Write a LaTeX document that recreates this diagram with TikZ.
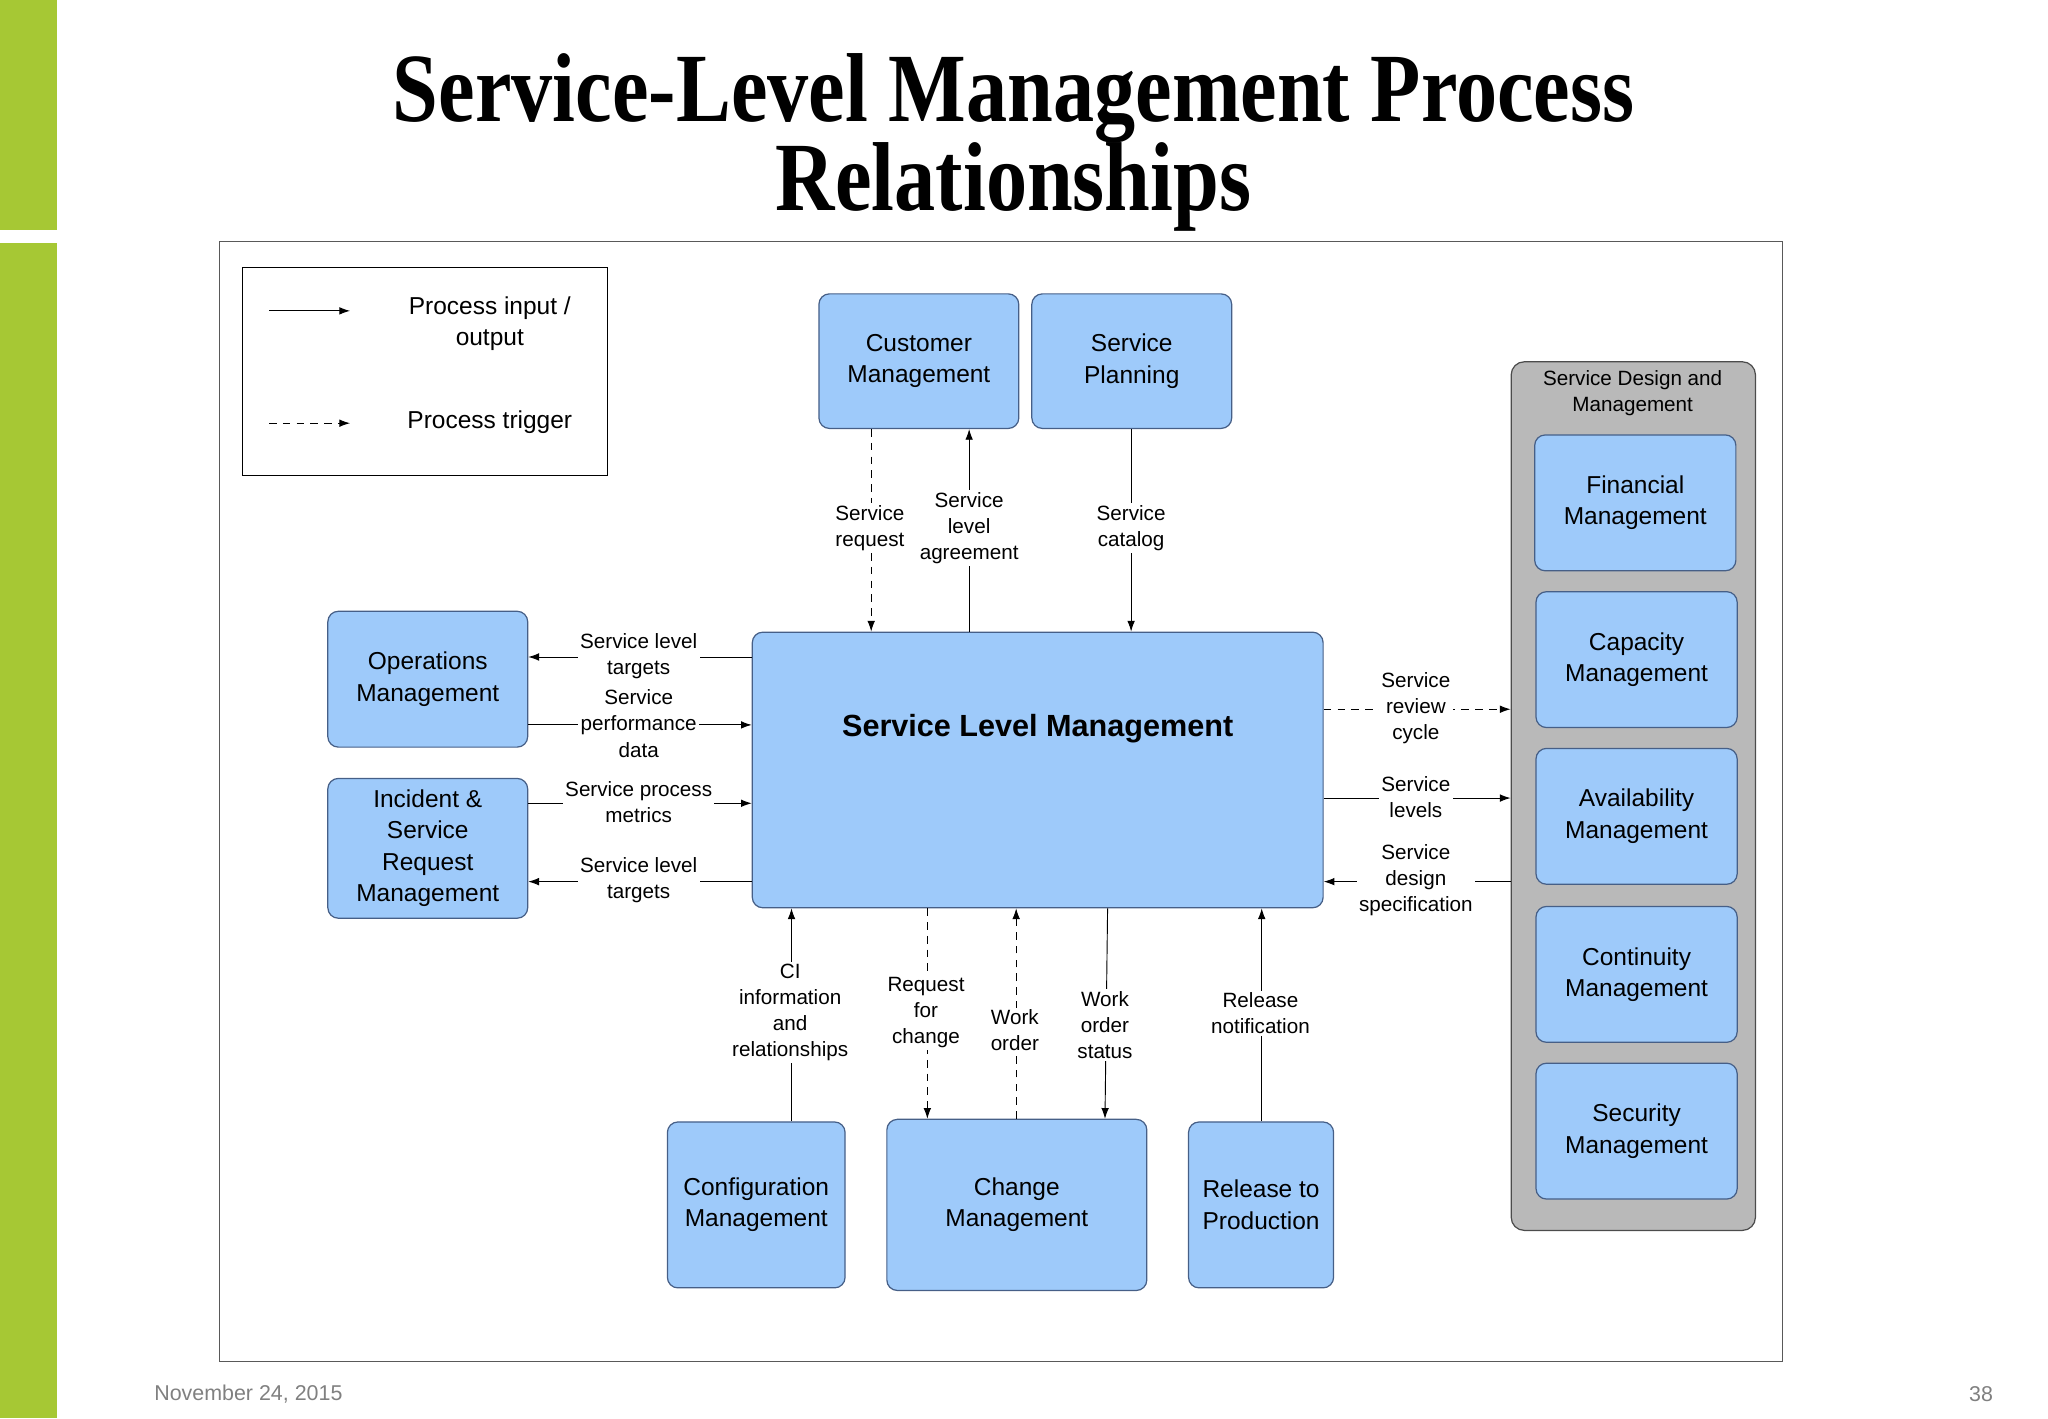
\documentclass[tikz,border=0pt]{standalone}
\usepackage{fontspec}
\setmainfont{Liberation Sans}
\newfontfamily\titlefont{Liberation Serif}
\usetikzlibrary{arrows.meta}
\definecolor{boxfill}{RGB}{158,202,250}
\definecolor{boxline}{RGB}{70,95,135}
\definecolor{barg}{RGB}{166,200,52}
\begin{document}
\begin{tikzpicture}[x=0.03cm,y=-0.03cm,
  box/.style={draw=boxline,fill=boxfill,rounded corners=0.24cm,line width=0.8pt,align=center,inner sep=0pt,font=\fontsize{16}{20.5}\selectfont},
  lbl/.style={fill=white,align=center,inner sep=1.5pt,font=\fontsize{13.5}{17}\selectfont},
  arr/.style={-{Latex[length=7pt,width=5pt]},line width=0.6pt},
  dsh/.style={arr,dash pattern=on 5pt off 4pt}]
\useasboundingbox (0,0) rectangle (1568,1086);
\fill[barg] (0,0) rectangle (44,176);
\fill[barg] (0,186) rectangle (44,1086);
% title
\node (t1) at (776,75) {\titlefont\bfseries\fontsize{64}{70}\selectfont\scalebox{0.84}[1]{Service-Level Management Process}};
\node (t2) at (776,143) {\titlefont\bfseries\fontsize{64}{70}\selectfont\scalebox{0.84}[1]{Relationships}};
\draw[line width=0.6pt,gray!70!black] (168,185) rectangle (1365,1042);
% legend
\draw[line width=0.6pt] (186,205) rectangle (465,364);
\coordinate (l1) at (206,238); \coordinate (l2) at (268,238);
\coordinate (l3) at (206,324); \coordinate (l4) at (268,324);
\draw[arr] (l1) -- (l2);
\draw[dsh] (l3) -- (l4);
\node[align=center,font=\fontsize{16}{20.5}\selectfont] (lt1) at (375,248) {Process input /\\output};
\node[font=\fontsize{16}{20.5}\selectfont] (lt2) at (375,323) {Process trigger};
% boxes
\node[box,minimum width=4.59cm,minimum height=3.09cm] (cust) at (703.5,276.5) {Customer\\Management};
\node[box,minimum width=4.59cm,minimum height=3.09cm] (plan) at (866.5,276.5) {Service\\Planning};
\node[box,minimum width=13.11cm,minimum height=6.33cm,font=\bfseries\fontsize{20}{24}\selectfont] (slm) at (794.5,589.5) {Service Level Management\\[1.2cm]};
\node[box,minimum width=4.59cm,minimum height=3.12cm] (ops) at (327.5,520) {Operations\\Management};
\node[box,minimum width=4.59cm,minimum height=3.21cm] (inc) at (327.5,649.5) {Incident \&\\Service\\Request\\Management};
\node[box,minimum width=4.08cm,minimum height=3.81cm] (cfg) at (579,922.5) {Configuration\\Management};
\node[box,minimum width=5.97cm,minimum height=3.93cm] (chg) at (778.5,922.5) {Change\\Management};
\node[box,minimum width=3.33cm,minimum height=3.81cm] (rel) at (965.5,922.5) {Release to\\Production};
\node[draw=gray!60!black,fill=gray!55,rounded corners=0.3cm,line width=0.8pt,minimum width=5.61cm,minimum height=19.95cm] (sdm) at (1250.5,609.5) {};
\node[align=center,font=\fontsize{13.5}{17}\selectfont] (sdmt) at (1250,301) {Service Design and\\Management};
\node[box,minimum width=4.62cm,minimum height=3.12cm] (fin) at (1252,385) {Financial\\Management};
\node[box,minimum width=4.62cm,minimum height=3.12cm] (cap) at (1253,505) {Capacity\\Management};
\node[box,minimum width=4.62cm,minimum height=3.12cm] (ava) at (1253,625) {Availability\\Management};
\node[box,minimum width=4.62cm,minimum height=3.12cm] (con) at (1253,746) {Continuity\\Management};
\node[box,minimum width=4.62cm,minimum height=3.12cm] (sec) at (1253,866) {Security\\Management};
% top connectors
\coordinate (a1) at (667,0); \coordinate (a2) at (742,0); \coordinate (a3) at (866,0);
\draw[dsh] (cust.south -| a1) -- (slm.north -| a1);
\draw[arr] (slm.north -| a2) -- (cust.south -| a2);
\draw[arr] (plan.south -| a3) -- (slm.north -| a3);
\node[lbl] (la1) at (666,404) {Service\\request};
\node[lbl] (la2) at (742,404) {Service\\level\\agreement};
\node[lbl] (la3) at (866,404) {Service\\catalog};
% left connectors
\coordinate (b1) at (0,503); \coordinate (b2) at (0,555); \coordinate (b3) at (0,615); \coordinate (b4) at (0,675);
\draw[arr] (slm.west |- b1) -- (ops.east |- b1);
\draw[arr] (ops.east |- b2) -- (slm.west |- b2);
\draw[arr] (inc.east |- b3) -- (slm.west |- b3);
\draw[arr] (slm.west |- b4) -- (inc.east |- b4);
\node[lbl] (lb1) at (489,502) {Service level\\targets};
\node[lbl] (lb2) at (489,554) {Service\\performance\\data};
\node[lbl] (lb3) at (489,614) {Service process\\metrics};
\node[lbl] (lb4) at (489,674) {Service level\\targets};
% right connectors
\coordinate (c1) at (0,543); \coordinate (c2) at (0,611); \coordinate (c3) at (0,675);
\draw[dsh] (slm.east |- c1) -- (sdm.west |- c1);
\draw[arr] (slm.east |- c2) -- (sdm.west |- c2);
\draw[arr] (sdm.west |- c3) -- (slm.east |- c3);
\node[lbl] (lc1) at (1084,542) {Service\\review\\cycle};
\node[lbl] (lc2) at (1084,610) {Service\\levels};
\node[lbl] (lc3) at (1084,674) {Service\\design\\specification};
% bottom connectors
\coordinate (d1) at (606,0); \coordinate (d2) at (710,0); \coordinate (d3) at (778,0);
\coordinate (d4a) at (848,0); \coordinate (d4b) at (846,0); \coordinate (d5) at (966,0);
\draw[arr] (cfg.north -| d1) -- (slm.south -| d1);
\draw[dsh] (slm.south -| d2) -- (chg.north -| d2);
\draw[dsh] (chg.north -| d3) -- (slm.south -| d3);
\draw[arr] (slm.south -| d4a) -- (chg.north -| d4b);
\draw[arr] (rel.north -| d5) -- (slm.south -| d5);
\node[lbl] (ld1) at (605,775) {CI\\information\\and\\relationships};
\node[lbl] (ld2) at (709,775) {Request\\for\\change};
\node[lbl] (ld3) at (777,789) {Work\\order};
\node[lbl] (ld4) at (846,785) {Work\\order\\status};
\node[lbl] (ld5) at (965,776) {Release\\notification};
% footer
\node[anchor=west,text=gray,font=\fontsize{14}{17}\selectfont] (f1) at (114,1067) {November 24, 2015};
\node[anchor=east,text=gray,font=\fontsize{14}{17}\selectfont] (f2) at (1530,1067) {38};
\end{tikzpicture}
\end{document}
